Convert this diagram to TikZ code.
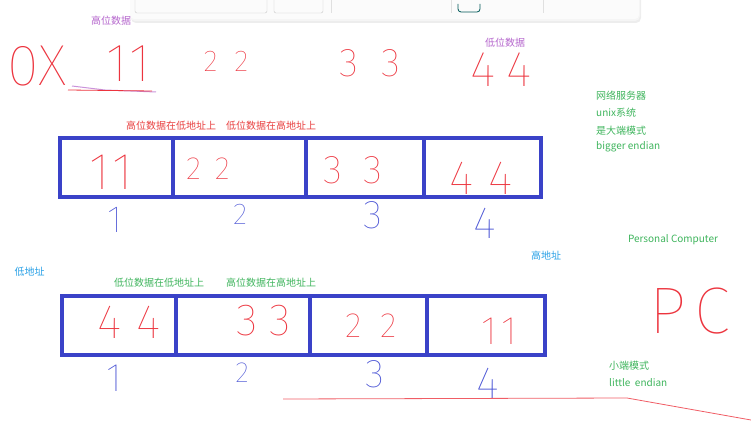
\documentclass[tikz,border=0pt]{standalone}
\usepackage{fontspec}
\setmainfont{Noto Sans CJK SC}
\IfFontExistsTF{Fira Sans Thin}{\newfontfamily\handfont{Fira Sans Thin}}{%
  \IfFontExistsTF{Fira Sans ExtraLight}{\newfontfamily\handfont{Fira Sans ExtraLight}}{%
    \IfFontExistsTF{Fira Sans Light}{\newfontfamily\handfont{Fira Sans Light}}{%
      \IfFontExistsTF{DejaVu Sans ExtraLight}{\newfontfamily\handfont{DejaVu Sans ExtraLight}}{%
        \newfontfamily\handfont{Fira Sans}}}}}
\usepackage{xcolor}
\usetikzlibrary{positioning}

\definecolor{boxblue}{RGB}{58,66,200}
\definecolor{inkred}{RGB}{236,52,62}
\definecolor{inkblue}{RGB}{72,82,212}
\definecolor{notered}{RGB}{232,62,62}
\definecolor{notegreen}{RGB}{62,180,92}
\definecolor{notepurple}{RGB}{180,100,204}
\definecolor{noteblue}{RGB}{40,160,230}

\begin{document}
\begin{tikzpicture}[x=1pt, y=-1pt,
    cell/.style={draw=boxblue, line width=3.5pt, inner sep=0pt, outer sep=0pt, minimum height=59pt},
    note/.style={font=\fontsize{10}{12}\selectfont, inner sep=0pt},
    hand/.style={font={\handfont\fontsize{#1}{#1}\selectfont}, inner sep=0pt}]
    \useasboundingbox (0,0) rectangle (751,438);

    % Toolbar at the top
    \fill[black!7, rounded corners=5pt] (131,-8) rectangle (641,23);
    \fill[black!4, rounded corners=5pt] (130,-8) rectangle (640,21);
    \fill[black!1.5, rounded corners=4pt] (130,-8) rectangle (639,19);
    \draw[black!22, rounded corners=2pt] (135,-4) -- (135,13) -- (267,13) -- (267,-4);
    \draw[black!22, rounded corners=2pt] (274,-4) -- (274,13) -- (323,13) -- (323,-4);
    \foreach \x in {331, 451, 543} {
        \draw[black!12] (\x,0) -- (\x,13);
    }
    \draw[teal!70!black, line width=0.8pt, rounded corners=3pt] (458,4) -- (458,12) -- (480,12) -- (480,4);

    % Value 0x11223344
    \node[note, text=notepurple] (high) at (111,21) {高位数据};
    \node[note, text=notepurple] (low) at (505,43) {低位数据};
    \node[hand=58, text=inkred] (hex) at (37,66) {0X};
    \node[hand=54, text=inkred] (v11) at (129,64) {1\hspace{2pt}1};
    \node[hand=30, text=inkred] (v22) at (226,61) {2\hspace{17pt}2};
    \node[hand=40, text=inkred] (v33) at (370,63) {3\hspace{23pt}3};
    \node[hand=50, text=inkred] (v44) at (501,70) {4\hspace{10pt}4};
    \draw[notepurple!70, line width=1pt] (72,86) -- (105,90) -- (156,92);
    \draw[inkred, line width=0.8pt] (68,90) -- (152,91);

    % Big endian
    \node[note, text=notered] (bigtext) at (221,126)
        {高位数据在低地址上\hspace{10pt}低位数据在高地址上};
    \foreach \a/\b/\n in {60/173/1, 173/306/2, 306/424/3, 424/541/4} {
        \node[cell, minimum width={(\b-\a)*1pt}] (up\n) at ({(\a+\b)/2},167.5) {};
    }
    \node[hand=52, text=inkred] (up11) at (111.5,172) {1\hspace{2.5pt}1};
    \node[hand=32, text=inkred] (up22) at (208,169) {2\hspace{14pt}2};
    \node[hand=40, text=inkred] (up33) at (352.5,170) {3\hspace{21pt}3};
    \node[hand=48, text=inkred] (up44) at (481,178) {4\hspace{15pt}4};
    \foreach \n/\x/\y/\s in {1/115/220/38, 2/240/214/30, 3/373/215/40, 4/485/223/45} {
        \node[hand=\s, text=inkblue] (upaddr\n) at (\x,\y) {\n};
    }

    % Right notes
    \foreach \i/\y/\l in {1/96/网络服务器, 2/113/unix系统, 3/131/是大端模式, 4/147/bigger endian} {
        \node[note, text=notegreen, anchor=west] (server\i) at (596,\y) {\l};
    }
    \node[note, text=notegreen] (pcname) at (673,240) {Personal Computer};
    \node[hand=66, text=inkred] (pc) at (690,311) {P\hspace{8pt}C};

    % Little endian
    \node[note, text=noteblue] (lowaddr) at (29.5,272) {低地址};
    \node[note, text=noteblue] (highaddr) at (546,256) {高地址};
    \node[note, text=notegreen] (lsb) at (159,283) {低位数据在低地址上};
    \node[note, text=notegreen] (msb) at (271,283) {高位数据在高地址上};
    \foreach \a/\b/\n in {62/176/1, 176/310/2, 310/427/3, 427/545/4} {
        \node[cell, minimum width={(\b-\a)*1pt}] (dn\n) at ({(\a+\b)/2},325.5) {};
    }
    \node[hand=48, text=inkred] (dn44) at (129,322) {4\hspace{15pt}4};
    \node[hand=45, text=inkred] (dn33) at (264,321) {3\hspace{12pt}3};
    \node[hand=35, text=inkred] (dn22) at (371,326) {2\hspace{19pt}2};
    \node[hand=40, text=inkred] (dn11) at (499,331) {1\hspace{4pt}1};
    \foreach \n/\x/\y/\s in {1/114/378/40, 2/242/373/29, 3/375/374/40, 4/488/383/45} {
        \node[hand=\s, text=inkblue] (dnaddr\n) at (\x,\y) {\n};
    }
    \node[note, text=notegreen, anchor=west] (small) at (609,366) {小端模式};
    \node[note, text=notegreen, anchor=west] (little) at (609,383) {little~ endian};

    % Stroke at the bottom
    \draw[inkred!80, line width=0.8pt] (283,399) -- (627,398) -- (751,420);
\end{tikzpicture}
\end{document}
